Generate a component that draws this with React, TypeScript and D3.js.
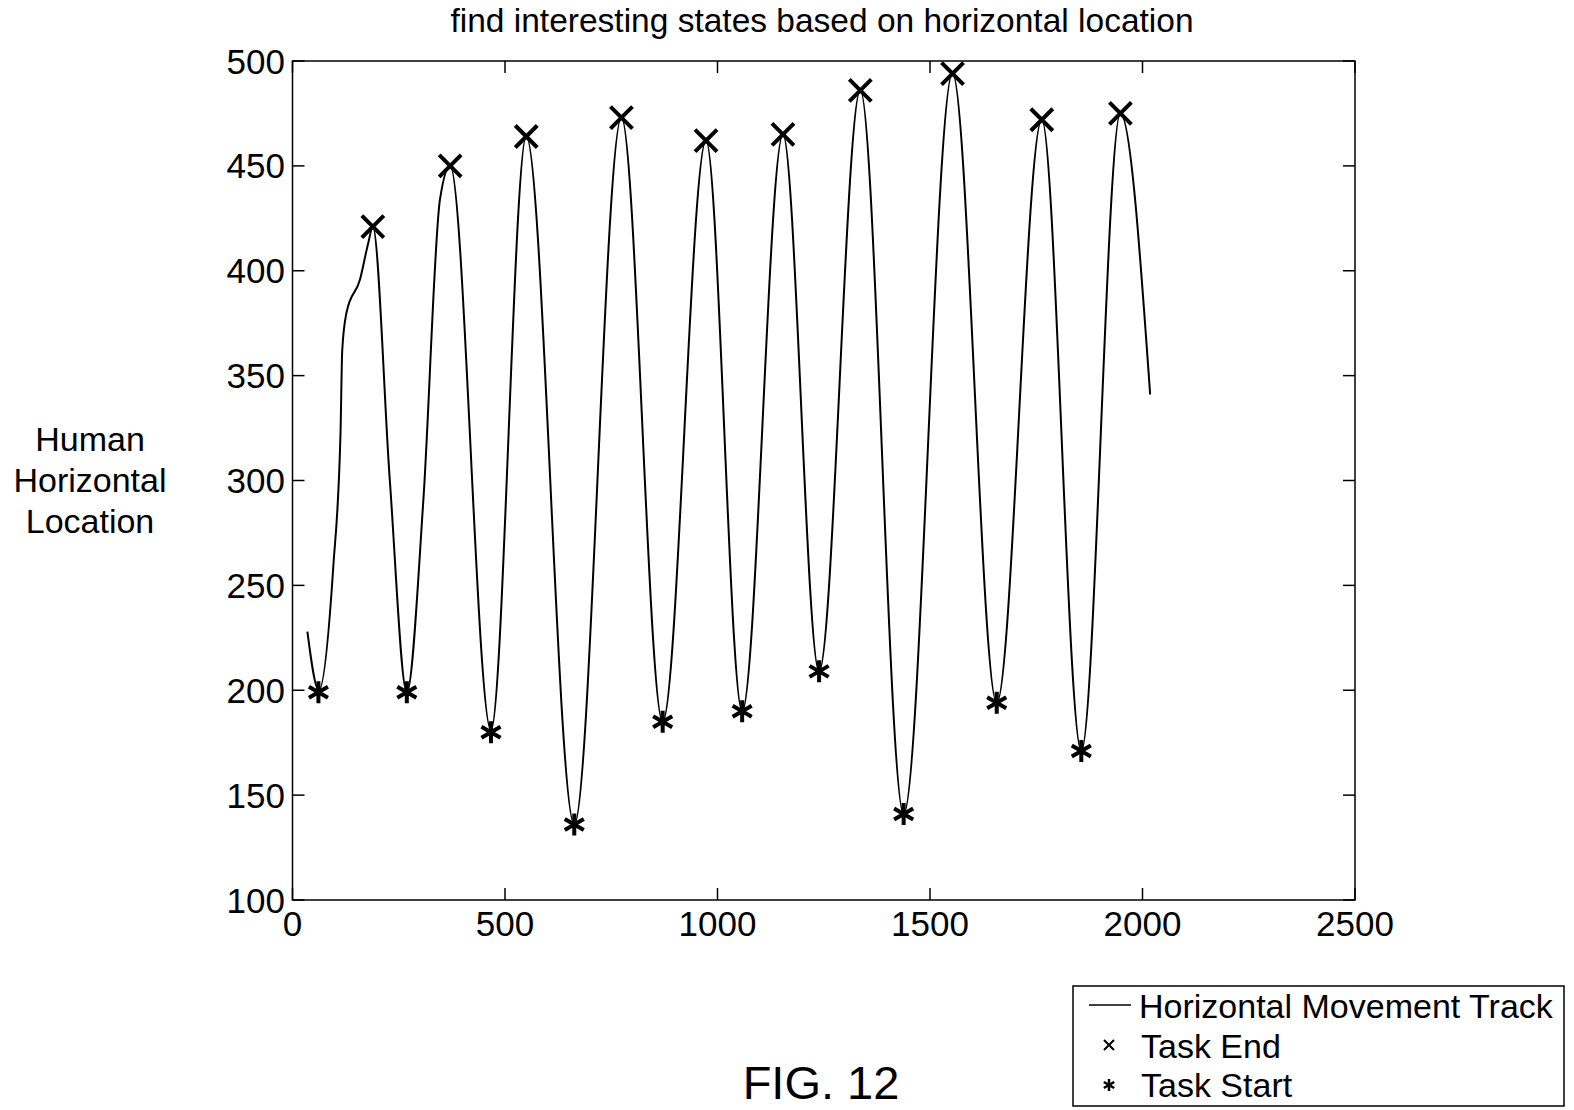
import React, { Component } from "react";
import * as d3 from "d3";

// horizontal movement track (frame, location)
const trackFrames = [35, 62, 96, 113, 117, 127, 159, 178, 189, 229, 269, 308, 347, 371, 467, 550, 663, 774, 871, 973, 1058, 1154, 1239, 1336, 1438, 1553, 1657, 1763, 1856, 1948, 2018];
const trackValues = [228, 200, 259, 323, 362, 380, 396, 413, 421, 300, 199, 291, 434, 450, 181, 464, 136, 473, 185, 462, 190, 465, 209, 486, 141, 494, 194, 472, 171, 475, 341];

const endFrames = [189, 371, 550, 774, 973, 1154, 1336, 1553, 1763, 1948];
const endValues = [421, 450, 464, 473, 462, 465, 486, 494, 472, 475];

const startFrames = [61, 269, 467, 663, 871, 1058, 1239, 1438, 1657, 1856];
const startValues = [199, 199, 180, 136, 185, 190, 209, 141, 194, 171];

const xTicks = [0, 500, 1000, 1500, 2000, 2500];
const yTicks = [100, 150, 200, 250, 300, 350, 400, 450, 500];

const legendLabels = ["Horizontal Movement Track", "Task End", "Task Start"];

const FONT = "'Liberation Sans', Arial, Helvetica, sans-serif";

class Chart extends Component {
  constructor(props) {
    super(props);
    this.x = d3.scaleLinear().domain([0, 2500]).range([292.5, 1355]);
    this.y = d3.scaleLinear().domain([100, 500]).range([900, 61]);
  }
  xPath(cx, cy, r) {
    return `M${cx - r},${cy - r}L${cx + r},${cy + r}M${cx - r},${cy + r}L${cx + r},${cy - r}`;
  }
  starPath(cx, cy, r) {
    return [90, 30, 150].map((deg) => {
      const a = (deg * Math.PI) / 180;
      const dx = r * Math.cos(a);
      const dy = r * Math.sin(a);
      return `M${cx - dx},${cy - dy}L${cx + dx},${cy + dy}`;
    }).join("");
  }
  renderAxes() {
    const [x0, x1] = this.x.range();
    const [y0, y1] = this.y.range();
    const tick = 12;
    return (
      <g>
        <rect x={x0} y={y1} width={x1 - x0} height={y0 - y1} fill="none" stroke="#000" strokeWidth={1.5} />
        {xTicks.map((t) => (
          <g key={`x${t}`}>
            <line x1={this.x(t)} x2={this.x(t)} y1={y0} y2={y0 - tick} stroke="#000" strokeWidth={1.5} />
            <line x1={this.x(t)} x2={this.x(t)} y1={y1} y2={y1 + tick} stroke="#000" strokeWidth={1.5} />
            <text x={this.x(t)} y={936} textAnchor="middle" fontSize={35} fontFamily={FONT}>{t}</text>
          </g>
        ))}
        {yTicks.map((t) => (
          <g key={`y${t}`}>
            <line x1={x0} x2={x0 + tick} y1={this.y(t)} y2={this.y(t)} stroke="#000" strokeWidth={1.5} />
            <line x1={x1} x2={x1 - tick} y1={this.y(t)} y2={this.y(t)} stroke="#000" strokeWidth={1.5} />
            <text x={285} y={this.y(t)} dy="0.36em" textAnchor="end" fontSize={35} fontFamily={FONT}>{t}</text>
          </g>
        ))}
      </g>
    );
  }
  renderTrack() {
    const line = d3.line().x((d) => this.x(d[0])).y((d) => this.y(d[1])).curve(d3.curveMonotoneX);
    const data = trackFrames.map((f, i) => [f, trackValues[i]]);
    return <path d={line(data)} fill="none" stroke="#000" strokeWidth={2} />;
  }
  renderMarkers() {
    return (
      <g stroke="#000" fill="none" strokeWidth={4}>
        {endFrames.map((f, i) => (
          <path key={`e${i}`} d={this.xPath(this.x(f), this.y(endValues[i]), 11)} />
        ))}
        {startFrames.map((f, i) => (
          <path key={`s${i}`} d={this.starPath(this.x(f), this.y(startValues[i]), 11)} />
        ))}
      </g>
    );
  }
  renderLegend() {
    const rows = [1018, 1058, 1097];
    return (
      <g fontFamily={FONT} fontSize={34}>
        <rect x={1073} y={986} width={491} height={120} fill="#fff" stroke="#000" strokeWidth={1.5} />
        <line x1={1089} x2={1131} y1={1005} y2={1005} stroke="#000" strokeWidth={1.5} />
        <path d={this.xPath(1109, 1045, 5)} stroke="#000" strokeWidth={2} fill="none" />
        <path d={this.starPath(1109, 1085, 6)} stroke="#000" strokeWidth={2.5} fill="none" />
        {legendLabels.map((l, i) => (
          <text key={l} x={i === 0 ? 1139 : 1141} y={rows[i]}>{l}</text>
        ))}
      </g>
    );
  }
  render() {
    return (
      <svg width={1574} height={1110} style={{ display: "block", background: "#fff" }}>
        <text x={822} y={32} textAnchor="middle" fontSize={33.5} fontFamily={FONT}>
          find interesting states based on horizontal location
        </text>
        <text x={90} textAnchor="middle" fontSize={34} fontFamily={FONT}>
          <tspan x={90} y={451}>Human</tspan>
          <tspan x={90} y={492}>Horizontal</tspan>
          <tspan x={90} y={533}>Location</tspan>
        </text>
        {this.renderAxes()}
        {this.renderTrack()}
        {this.renderMarkers()}
        {this.renderLegend()}
        <text x={821} y={1099} textAnchor="middle" fontSize={47} fontFamily={FONT}>FIG. 12</text>
      </svg>
    );
  }
}

export default function App() {
  return (
    <div style={{ position: "absolute", left: 0, top: 0 }}>
      <Chart />
    </div>
  );
}
